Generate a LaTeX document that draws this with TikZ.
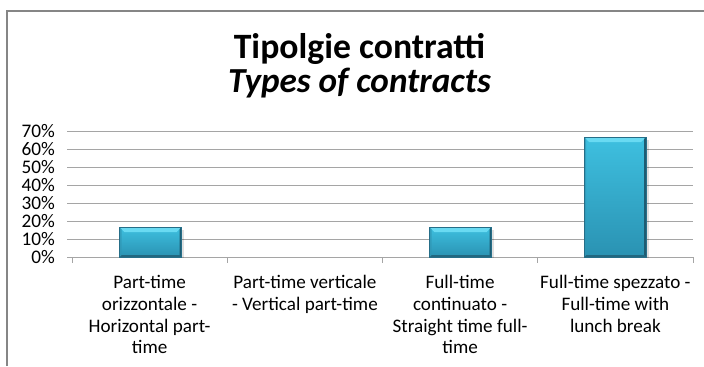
\documentclass[tikz,border=0pt]{standalone}
\usepackage{fontspec}
\setmainfont{Carlito}
\definecolor{framec}{RGB}{134,134,134}
\definecolor{gridc}{RGB}{165,165,165}
\definecolor{bartop}{RGB}{62,192,224}
\definecolor{barbot}{RGB}{42,146,178}
\definecolor{bevtop}{RGB}{105,218,242}
\definecolor{bevbot}{RGB}{34,104,128}
\definecolor{bevright}{RGB}{30,92,114}
\definecolor{bevleft}{RGB}{48,150,180}
\definecolor{baredge}{RGB}{38,110,136}
\begin{document}
\begin{tikzpicture}[x=1bp,y=-1bp,
  frame/.style={draw=framec,line width=1.4bp},
  grid/.style={draw=gridc,line width=1bp},
  ylab/.style={anchor=base east,inner sep=0,font=\fontsize{19.3}{22}\selectfont},
  catlab/.style={anchor=north,inner sep=0,align=center,font=\fontsize{19.2}{21.7}\selectfont},
  titlea/.style={anchor=base,inner sep=0,font=\fontsize{35.8}{38}\selectfont\bfseries},
  titleb/.style={anchor=base,inner sep=0,font=\fontsize{35.3}{38}\selectfont\bfseries\itshape}]
\useasboundingbox (0,0) rectangle (704,366);
% frame
\coordinate (fa) at (7,366);
\coordinate (fb) at (7,11);
\coordinate (fc) at (704,11);
\draw[frame] (fa) -- (fb) -- (fc);
% title
\node[titlea] (t1) at (359.5,58) {Tipolgie contratti};
\node[titleb] (t2) at (359.5,92) {Types of contracts};
% grid
\foreach \k in {0,...,7}{
  \pgfmathsetmacro{\yy}{257-18*\k}
  \coordinate (gl\k) at (67,\yy);
  \coordinate (gr\k) at (693,\yy);
  \draw[grid] (gl\k) -- (gr\k);
  \pgfmathtruncatemacro{\pc}{10*\k}
  \node[ylab] (yl\k) at (55,\yy+6.5) {\pc\%};
}
% category ticks
\foreach \i/\xx in {0/72,1/227.25,2/382.5,3/537.75,4/693}{
  \coordinate (ta\i) at (\xx,257);
  \coordinate (tb\i) at (\xx,263);
  \draw[grid] (ta\i) -- (tb\i);
}
% bars
\newcommand{\chartbar}[3]{% left, right, top
  \fill[black,opacity=0.12] (#1+2,#3+3) rectangle (#2+2.5,258);
  \shade[top color=bartop,bottom color=barbot] (#1,#3) rectangle (#2,257);
  \fill[bevtop] (#1,#3) -- (#2,#3) -- (#2-5,#3+5) -- (#1+5,#3+5) -- cycle;
  \fill[bevbot] (#1,257) -- (#2,257) -- (#2-2,255) -- (#1+2,255) -- cycle;
  \fill[bevright] (#2,#3) -- (#2,257) -- (#2-2,255) -- (#2-2,#3+2) -- cycle;
  \fill[bevleft,opacity=0.7] (#1,#3) -- (#1,257) -- (#1+2,255) -- (#1+2,#3+2) -- cycle;
  \draw[baredge,line width=0.4bp] (#1,#3) rectangle (#2,257);
}
\chartbar{119.5}{181.5}{227}
\chartbar{429.5}{491.5}{227}
\chartbar{584}{646}{137}
% category labels
\node[catlab] (c1) at (149.6,275.5) {Part-time\\orizzontale -\\Horizontal part-\\time};
\node[catlab] (c2) at (304.9,275.5) {Part-time verticale\\- Vertical part-time};
\node[catlab] (c3) at (460.1,275.5) {Full-time\\continuato -\\Straight time full-\\time};
\node[catlab] (c4) at (615.4,275.5) {Full-time spezzato -\\Full-time with\\lunch break};
\end{tikzpicture}
\end{document}
